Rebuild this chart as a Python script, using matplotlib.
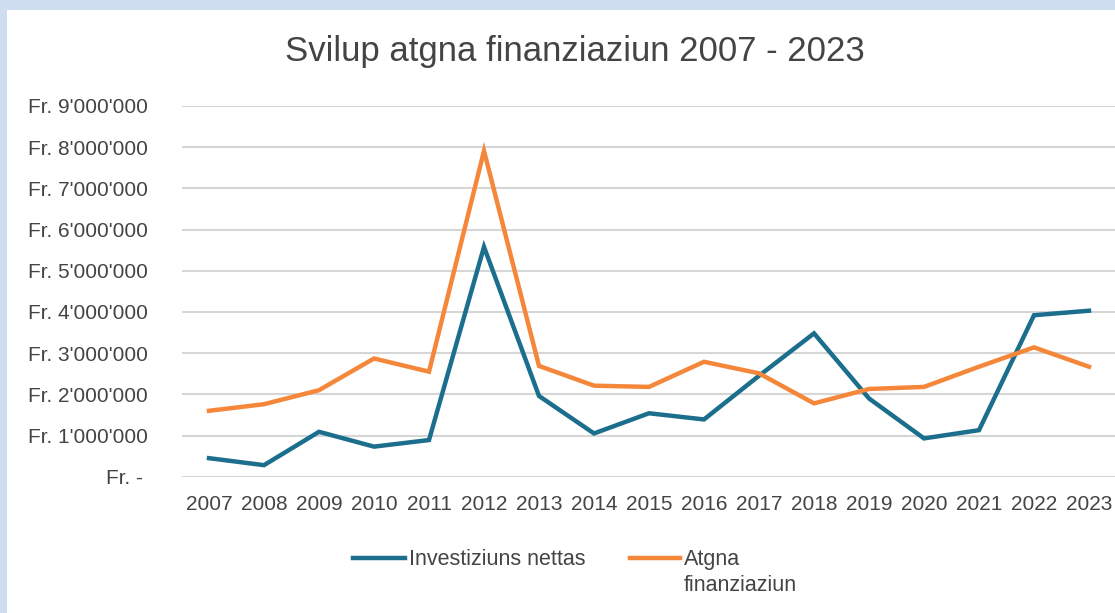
import matplotlib
matplotlib.use('Agg')
import matplotlib.pyplot as plt
import matplotlib.patches as mpatches
from matplotlib.lines import Line2D
from matplotlib.ticker import FuncFormatter

plt.rcParams['font.family'] = ['Liberation Sans', 'DejaVu Sans']

years = list(range(2007, 2024))
investiziuns = [0.45, 0.28, 1.09, 0.73, 0.89, 5.58, 1.96, 1.05, 1.54, 1.39,
                2.45, 3.48, 1.90, 0.93, 1.13, 3.92, 4.03]
finanziaziun = [1.60, 1.76, 2.10, 2.87, 2.55, 7.91, 2.69, 2.21, 2.18, 2.79,
                2.51, 1.78, 2.13, 2.18, 2.67, 3.14, 2.67]
labels = ['Investiziuns nettas', 'Atgna\nfinanziaziun']
title = 'Svilup atgna finanziaziun 2007 - 2023'

TEAL = '#1C6F8C'
ORANGE = '#F4873A'
TEXT = '#444444'
GRID = '#D6D6D6'
BORDER = '#CEDEF0'

W, H = 1115, 613
fig = plt.figure(figsize=(W / 100, H / 100), dpi=100, facecolor=BORDER)
fig.patches.append(mpatches.Rectangle((7 / W, 0), 1, (H - 10) / H,
                                      transform=fig.transFigure,
                                      facecolor='white', edgecolor='none', zorder=-5))

ax = fig.add_axes([181.5 / W, (H - 476.7) / H, 935 / W, (476.7 - 106) / H])
ax.set_facecolor('none')

vals1 = [v * 1e6 for v in investiziuns]
vals2 = [v * 1e6 for v in finanziaziun]
ax.plot(years, vals1, color=TEAL, lw=3.2, solid_joinstyle='miter', zorder=3)
ax.plot(years, vals2, color=ORANGE, lw=3.2, solid_joinstyle='miter', zorder=3)

ax.set_xlim(2006.5, 2023.5)
ax.set_ylim(0, 9e6)
ax.set_yticks([i * 1e6 for i in range(10)])
ax.set_xticks(years)


def fmt(v, pos):
    if v == 0:
        return 'Fr. - '
    s = f"{int(round(v)):,}".replace(',', "'")
    return 'Fr. ' + s


ax.yaxis.set_major_formatter(FuncFormatter(fmt))
ax.grid(axis='y', color=GRID, lw=1.5)
ax.set_axisbelow(True)
for sp in ax.spines.values():
    sp.set_visible(False)
ax.tick_params(axis='both', length=0, labelsize=15, labelcolor=TEXT)
ax.tick_params(axis='y', pad=24)
ax.tick_params(axis='x', pad=13)

fig.text(575 / W, 1 - 51 / H, title, ha='center', va='center', fontsize=25, color=TEXT)

# legend drawn by hand so the handles line up with the first text line
for (x0, x1), color, lab in [((353, 405), TEAL, labels[0]), ((630, 680), ORANGE, labels[1])]:
    fig.add_artist(Line2D([x0 / W, x1 / W], [1 - 558 / H, 1 - 558 / H],
                          transform=fig.transFigure, color=color, lw=3.2))
    fig.text((x1 + 4) / W, 1 - 549 / H, lab, ha='left', va='top', fontsize=15.5,
             color=TEXT, linespacing=1.3)

fig.savefig('out.png', dpi=100, facecolor=BORDER)
